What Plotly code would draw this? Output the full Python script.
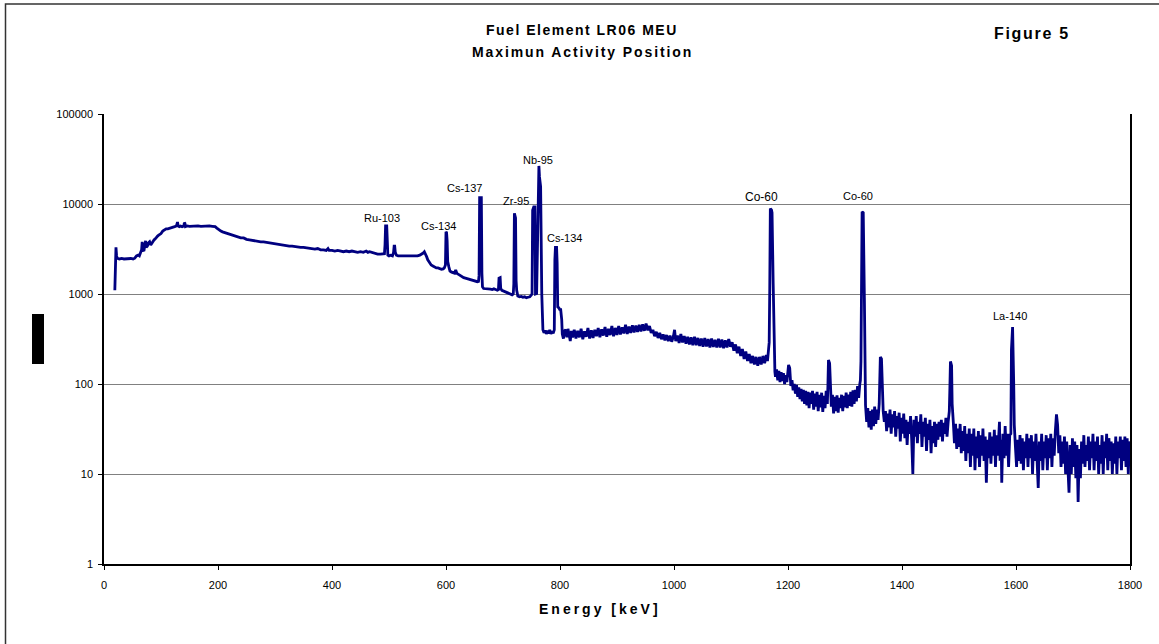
import math
import plotly.graph_objects as go

# ---------------- data ----------------
# (energy keV, counts) pairs, grouped by region of the spectrum
low_energy = [
    (19, 1100), (20, 1700), (21, 3300), (22, 2700), (23, 2500), (27, 2450), (31, 2480), (35, 2450),
    (39, 2470), (43, 2450), (47, 2480), (51, 2450), (54, 2500), (57, 2650), (60, 2700), (62, 2650),
    (64, 2900), (66, 3100), (67, 3800), (68, 3100), (70, 3000), (72, 3400), (73, 3900), (74, 3300),
    (76, 3400), (78, 3700), (80, 3800), (82, 3500), (84, 3700), (86, 3900), (88, 4000), (90, 4100),
    (92, 4300), (94, 4400), (96, 4500), (98, 4600), (100, 4700), (103, 5000), (106, 5200), (109, 5300),
    (112, 5300), (115, 5400), (118, 5500), (121, 5500), (124, 5600), (127, 5700), (129, 6300), (130, 5700),
    (132, 5600), (134, 5700), (137, 5600), (140, 5700), (141, 6200), (142, 6100), (143, 5600), (146, 5700),
    (150, 5650), (155, 5700), (160, 5650), (165, 5700), (170, 5650), (175, 5700), (180, 5650), (185, 5700),
    (190, 5650), (195, 5600), (198, 5400), (201, 5200), (205, 5000), (208, 4900), (212, 4800), (215, 4700),
    (220, 4600), (225, 4500), (230, 4400), (235, 4300), (240, 4200), (245, 4200), (250, 4050), (255, 4000),
    (260, 3950), (265, 3850), (270, 3850), (275, 3800), (280, 3800), (285, 3750), (290, 3700), (295, 3650),
    (300, 3600), (305, 3550), (310, 3550), (315, 3500), (320, 3450), (325, 3400), (330, 3400), (335, 3350),
    (340, 3350), (345, 3300), (350, 3300), (355, 3250), (360, 3250), (365, 3200), (370, 3150), (375, 3200),
    (380, 3100), (385, 3100), (390, 3050), (393, 3200), (395, 3050), (400, 3050), (405, 3000), (410, 3050),
    (415, 3000), (420, 2950), (425, 3000), (430, 2950), (435, 3000), (440, 2950), (445, 2900), (450, 2950),
    (455, 2900), (460, 3000), (463, 2900), (466, 2950), (470, 2900), (475, 2850), (480, 2780), (485, 2780),
    (490, 2780),
]

fission_peaks = [
    (492, 2800), (493, 3500), (494, 5700), (496, 5700), (497, 3000), (498, 2700), (500, 2650), (503, 2700),
    (506, 2650), (508, 2900), (509, 3400), (510, 3400), (511, 2900), (513, 2700), (516, 2650), (520, 2650),
    (525, 2620), (530, 2650), (535, 2600), (540, 2620), (545, 2600), (550, 2650), (554, 2700), (557, 2750),
    (560, 2850), (562, 2950), (564, 2800), (566, 2600), (568, 2400), (571, 2200), (574, 2100), (577, 2050),
    (580, 2000), (583, 1950), (586, 1950), (589, 1900), (592, 1880), (595, 1900), (597, 1950), (599, 2100),
    (600, 4900), (601, 4800), (602, 3900), (603, 2300), (605, 2000), (607, 1800), (610, 1750), (613, 1720),
    (615, 1700), (617, 1850), (619, 1700), (622, 1650), (625, 1600), (628, 1550), (631, 1520), (634, 1500),
    (637, 1480), (640, 1460), (643, 1430), (646, 1420), (649, 1400), (652, 1390), (655, 1370), (657, 1380),
    (658, 1600), (659, 11800), (662, 11800), (663, 1700), (664, 1200), (666, 1150), (669, 1150), (672, 1140),
    (675, 1150), (678, 1130), (681, 1120), (684, 1140), (687, 1120), (690, 1100), (692, 1120), (693, 1500),
    (695, 1520), (696, 1150), (698, 1100), (701, 1080), (704, 1060), (707, 1050), (710, 1020), (713, 1000),
    (716, 980), (718, 1000), (719, 1300), (720, 7900), (721, 7400), (722, 7000), (723, 1400), (724, 1100),
    (726, 950), (729, 930), (732, 940), (735, 920), (738, 930), (741, 910), (744, 920), (747, 930),
    (750, 980), (751, 1010), (752, 8500), (754, 9300), (756, 9300), (757, 1000), (759, 1010), (760, 3100),
    (762, 15000), (763, 26500), (764, 20000), (766, 15600), (768, 1010), (770, 400),
]

mid_energy = [
    (772, 370), (774, 395), (776, 360), (778, 390), (780, 365), (782, 400), (784, 360), (786, 385),
    (788, 365), (790, 400), (791, 2400), (792, 3300), (794, 3300), (795, 2200), (796, 720), (798, 700),
    (800, 660), (801, 690), (803, 520), (804, 360), (806, 320), (808, 390), (810, 400), (812, 330),
    (814, 410), (816, 340), (818, 300), (820, 390), (822, 330), (825, 400), (828, 320), (831, 390),
    (834, 330), (837, 410), (840, 315), (843, 385), (846, 335), (849, 420), (852, 320), (855, 395),
    (858, 325), (861, 400), (864, 340), (867, 420), (870, 330), (873, 405), (876, 345), (879, 430),
    (882, 335), (885, 410), (888, 350), (891, 440), (894, 340), (897, 420), (900, 350), (903, 440),
    (906, 355), (909, 425), (912, 365), (915, 455), (918, 360), (921, 435), (924, 370), (927, 450),
    (930, 375), (933, 445), (936, 380), (939, 455), (942, 385), (945, 460), (948, 390), (951, 470),
    (954, 395), (957, 440), (960, 370), (963, 400), (966, 340), (969, 380), (972, 325), (975, 370),
    (978, 315), (981, 355), (984, 305), (987, 350), (990, 300), (993, 345), (996, 295), (999, 340),
    (1001, 400), (1003, 300), (1006, 345), (1009, 285), (1012, 360), (1015, 290), (1018, 340), (1021, 280),
    (1024, 335), (1027, 275), (1030, 330), (1033, 270), (1036, 335), (1039, 270), (1042, 325), (1045, 265),
    (1048, 320), (1051, 260), (1054, 325), (1057, 262), (1060, 315), (1063, 255), (1066, 320), (1069, 258),
    (1072, 310), (1075, 255), (1078, 318), (1081, 255), (1084, 312), (1087, 250), (1090, 305), (1093, 255),
    (1096, 315), (1099, 260), (1102, 290), (1105, 235), (1108, 275), (1111, 220), (1114, 260), (1117, 205),
    (1120, 245), (1123, 190), (1126, 230), (1129, 180), (1132, 215), (1135, 170), (1138, 205), (1141, 165),
    (1144, 200), (1147, 160), (1150, 200), (1153, 165), (1156, 205), (1159, 170), (1162, 210), (1164, 180),
    (1166, 240), (1167, 290), (1168, 1170), (1169, 8900), (1171, 8600), (1172, 8000), (1174, 1300),
    (1175, 515), (1176, 500), (1177, 137),
]

cobalt_region = [
    (1178, 120), (1180, 145), (1182, 110), (1184, 140), (1186, 105), (1188, 135), (1190, 108), (1192, 132),
    (1194, 100), (1196, 125), (1198, 105), (1200, 130), (1201, 163), (1203, 150), (1205, 95), (1207, 110),
    (1209, 85), (1211, 100), (1213, 78), (1215, 98), (1217, 72), (1219, 92), (1221, 68), (1223, 88),
    (1225, 64), (1227, 86), (1229, 60), (1231, 84), (1233, 58), (1235, 82), (1237, 54), (1239, 80),
    (1241, 60), (1243, 84), (1245, 52), (1247, 78), (1249, 56), (1251, 82), (1253, 50), (1255, 76),
    (1257, 55), (1259, 80), (1261, 49), (1263, 74), (1265, 54), (1267, 84), (1269, 60), (1270, 95),
    (1271, 185), (1273, 170), (1274, 95), (1276, 56), (1278, 76), (1280, 47), (1282, 72), (1284, 50),
    (1286, 75), (1288, 48), (1290, 70), (1292, 54), (1294, 76), (1296, 50), (1298, 74), (1300, 55),
    (1302, 80), (1304, 54), (1306, 76), (1308, 57), (1310, 82), (1312, 56), (1314, 85), (1316, 60),
    (1318, 86), (1320, 64), (1322, 95), (1324, 70), (1326, 100), (1327, 110), (1328, 180), (1329, 2000),
    (1330, 8200), (1332, 8000), (1333, 980), (1334, 900), (1336, 58),
]

high_energy = [
    (1338, 38), (1340, 54), (1342, 33), (1344, 50), (1346, 31), (1348, 52), (1350, 34), (1352, 56),
    (1354, 36), (1356, 52), (1358, 40), (1360, 60), (1361, 93), (1362, 200), (1364, 190), (1365, 93),
    (1367, 50), (1369, 38), (1371, 50), (1373, 30), (1375, 47), (1377, 33), (1379, 52), (1381, 28),
    (1383, 46), (1385, 33), (1387, 50), (1389, 26), (1391, 44), (1393, 32), (1395, 48), (1397, 23),
    (1399, 42), (1401, 28), (1403, 47), (1405, 25), (1407, 40), (1409, 21), (1411, 38), (1413, 28),
    (1415, 44), (1417, 24), (1419, 10), (1421, 40), (1423, 26), (1425, 44), (1427, 22), (1429, 38),
    (1431, 28), (1433, 46), (1435, 20), (1437, 38), (1439, 26), (1441, 42), (1443, 18), (1445, 36),
    (1447, 24), (1449, 40), (1451, 17), (1453, 34), (1455, 22), (1457, 38), (1459, 20), (1461, 36),
    (1463, 24), (1465, 38), (1467, 26), (1469, 40), (1471, 23), (1473, 37), (1475, 28), (1477, 42),
    (1479, 26), (1481, 38), (1483, 50), (1484, 90), (1485, 178), (1487, 160), (1488, 60), (1490, 38),
    (1492, 22), (1494, 36), (1496, 19), (1498, 32), (1500, 20), (1502, 36), (1504, 17), (1506, 30),
    (1508, 18), (1510, 34), (1512, 14), (1514, 28), (1516, 17), (1518, 32), (1520, 12), (1522, 28),
    (1524, 16), (1526, 32), (1528, 11), (1530, 26), (1532, 15), (1534, 30), (1536, 12), (1538, 27),
    (1540, 16), (1542, 32), (1544, 14), (1546, 26), (1548, 8), (1550, 24), (1552, 15), (1554, 29),
    (1556, 13), (1558, 26), (1560, 16), (1562, 31), (1564, 12), (1566, 27), (1568, 16), (1571, 38),
    (1572, 14), (1574, 24), (1575, 8), (1577, 28), (1579, 15), (1581, 34), (1583, 16), (1585, 28),
    (1587, 12), (1589, 27), (1591, 28), (1592, 240), (1594, 430), (1596, 100), (1597, 35),
]

tail_energy = [
    (1599, 20), (1601, 12), (1603, 24), (1605, 14), (1607, 27), (1609, 13), (1611, 25), (1613, 11),
    (1615, 23), (1617, 15), (1619, 28), (1621, 12), (1623, 25), (1625, 15), (1627, 27), (1629, 10),
    (1631, 23), (1633, 14), (1635, 28), (1637, 12), (1639, 7), (1641, 23), (1643, 14), (1645, 28),
    (1647, 11), (1649, 23), (1651, 15), (1653, 27), (1655, 11), (1657, 25), (1659, 15), (1661, 28),
    (1663, 12), (1665, 25), (1667, 16), (1669, 30), (1671, 46), (1673, 35), (1675, 17), (1677, 27),
    (1679, 12), (1681, 23), (1683, 13), (1685, 26), (1687, 10), (1689, 23), (1691, 11), (1693, 6.2),
    (1695, 21), (1697, 10), (1699, 25), (1701, 12), (1703, 23), (1705, 9), (1707, 21), (1709, 4.9),
    (1711, 19), (1713, 9), (1715, 23), (1717, 13), (1719, 27), (1721, 12), (1723, 21), (1725, 14),
    (1727, 26), (1729, 11), (1731, 23), (1733, 15), (1735, 28), (1737, 11), (1739, 23), (1741, 14),
    (1743, 26), (1745, 10), (1747, 21), (1749, 13), (1751, 27), (1753, 10), (1755, 23), (1757, 15),
    (1759, 28), (1761, 11), (1763, 25), (1765, 14), (1767, 23), (1769, 10), (1771, 22), (1773, 13),
    (1775, 26), (1777, 10), (1779, 23), (1781, 15), (1783, 26), (1785, 11), (1787, 24), (1789, 14),
    (1791, 26), (1793, 12), (1795, 25), (1797, 10), (1799, 23), (1800, 18),
]

# nuclide labels: (text, energy keV, counts) at the label position
peak_labels = [
    ("Ru-103", 488, 7080), ("Cs-134", 586, 5700), ("Cs-137", 632, 15200), ("Zr-95", 722, 10700),
    ("Nb-95", 761, 31200), ("Cs-134", 808, 4190), ("Co-60", 1154, 12000), ("Co-60", 1323, 12400),
    ("La-140", 1590, 570),
]

y_ticks = [1, 10, 100, 1000, 10000, 100000]
x_ticks = [0, 200, 400, 600, 800, 1000, 1200, 1400, 1600, 1800]

# ---------------- figure ----------------
spectrum = low_energy + fission_peaks + mid_energy + cobalt_region + high_energy + tail_energy
energy = [p[0] for p in spectrum]
counts = [p[1] for p in spectrum]

FONT = "Liberation Sans, Arial, sans-serif"

fig = go.Figure()
fig.add_trace(go.Scatter(x=energy, y=counts, mode="lines",
                         line=dict(color="#000080", width=2.8), hoverinfo="skip"))

L, R, T, B = 104, 29, 114, 80
W, H = 1159, 644
pw, ph = W - L - R, H - T - B


def px(x):
    return (x - L) / pw


def py(y):
    return (H - B - y) / ph


annotations = []
for text, e, c in peak_labels:
    size = 12 if (text == "Co-60" and e < 1200) else 11
    annotations.append(dict(x=e, y=math.log10(c), xref="x", yref="y", text=text,
                            showarrow=False, font=dict(family=FONT, size=size, color="#000000"),
                            xanchor="center", yanchor="middle"))

annotations += [
    dict(x=px(582), y=py(30), xref="paper", yref="paper", showarrow=False,
         text='<b><span style="letter-spacing:1.5px">Fuel Element LR06 MEU</span></b>',
         font=dict(family=FONT, size=14, color="#000000"), xanchor="center", yanchor="middle"),
    dict(x=px(582), y=py(52), xref="paper", yref="paper", showarrow=False,
         text='<b><span style="letter-spacing:1.9px">Maximun Activity Position</span></b>',
         font=dict(family=FONT, size=14, color="#000000"), xanchor="center", yanchor="middle"),
    dict(x=px(1032), y=py(33), xref="paper", yref="paper", showarrow=False,
         text='<b><span style="letter-spacing:1.7px">Figure 5</span></b>',
         font=dict(family=FONT, size=16, color="#000000"), xanchor="center", yanchor="middle"),
    dict(x=px(600), y=py(609), xref="paper", yref="paper", showarrow=False,
         text='<b><span style="letter-spacing:3px">Energy [keV]</span></b>',
         font=dict(family=FONT, size=14, color="#000000"), xanchor="center", yanchor="middle"),
]

shapes = [
    # outer chart border
    dict(type="rect", xref="paper", yref="paper", x0=px(5.5), x1=px(1175), y0=py(660), y1=py(4),
         line=dict(color="#333333", width=1.5), fillcolor="rgba(0,0,0,0)", layer="below"),
    # black block where the vertical axis title sits
    dict(type="rect", xref="paper", yref="paper", x0=px(32), x1=px(44), y0=py(364), y1=py(314),
         line=dict(width=0), fillcolor="#000000"),
]

fig.update_layout(
    width=W, height=H,
    margin=dict(l=L, r=R, t=T, b=B, pad=0),
    paper_bgcolor="#ffffff", plot_bgcolor="#ffffff",
    showlegend=False,
    font=dict(family=FONT, size=11, color="#000000"),
    annotations=annotations,
    shapes=shapes,
    xaxis=dict(range=[0, 1800], tickvals=x_ticks, ticktext=[str(v) for v in x_ticks],
               showgrid=False, zeroline=False, showline=True, linecolor="#000000", linewidth=2,
               ticks="outside", ticklen=4, tickcolor="#000000", tickwidth=1,
               tickfont=dict(family=FONT, size=11, color="#000000"), ticklabelstandoff=6),
    yaxis=dict(type="log", range=[0, 5], tickvals=y_ticks, ticktext=[str(v) for v in y_ticks],
               showgrid=True, gridcolor="#808080", gridwidth=1, zeroline=False,
               showline=True, linecolor="#000000", linewidth=1.5, mirror=True,
               ticks="outside", ticklen=4, tickcolor="#000000", tickwidth=1,
               tickfont=dict(family=FONT, size=11, color="#000000"), ticklabelstandoff=3),
)

fig.write_html("out.html")
